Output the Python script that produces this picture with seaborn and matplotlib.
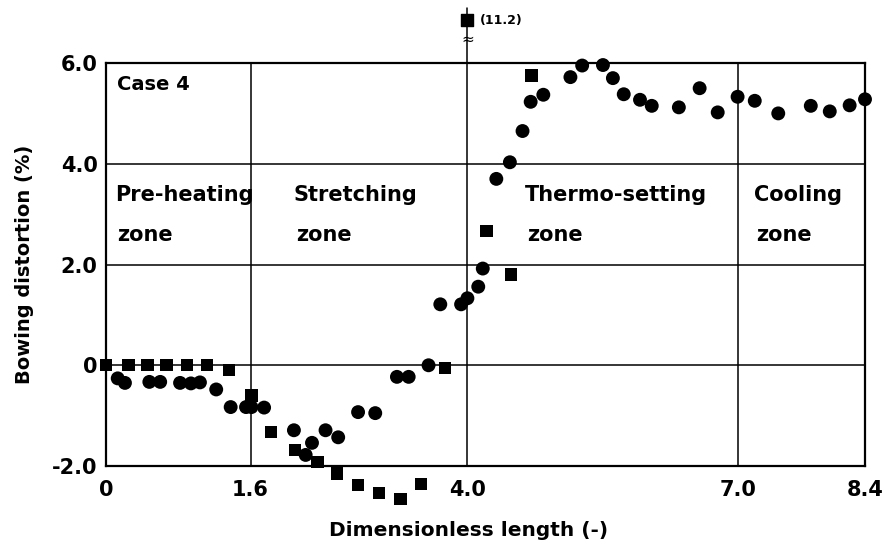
import matplotlib
matplotlib.use("Agg")
import matplotlib.pyplot as plt
import numpy as np
import pandas as pd
import seaborn as sns

# ---- data ----
sq_x = [0.0, 0.25, 0.46, 0.67, 0.90, 1.12, 1.36, 1.61, 1.83, 2.09, 2.34, 2.56,
        2.79, 3.02, 3.26, 3.49, 3.75, 4.21, 4.48, 4.71]
sq_y = [0.0, 0.0, 0.0, 0.0, 0.0, 0.0, -0.10, -0.60, -1.33, -1.68, -1.92, -2.15,
        -2.38, -2.53, -2.66, -2.35, -0.05, 2.66, 1.80, 5.75]

circ_x = [0.13, 0.21, 0.48, 0.60, 0.82, 0.94, 1.04, 1.22, 1.38, 1.55, 1.61, 1.75,
          2.08, 2.21, 2.28, 2.43, 2.57, 2.79, 2.98, 3.22, 3.35, 3.57, 3.70, 3.93,
          4.00, 4.12, 4.17, 4.32, 4.47, 4.61, 4.70, 4.84, 5.14, 5.27, 5.50, 5.61,
          5.73, 5.91, 6.04, 6.34, 6.57, 6.77, 6.99, 7.18, 7.44, 7.80, 8.01, 8.23, 8.40]
circ_y = [-0.26, -0.35, -0.33, -0.33, -0.35, -0.36, -0.34, -0.48, -0.83, -0.83, -0.83, -0.84,
          -1.29, -1.78, -1.54, -1.29, -1.43, -0.93, -0.95, -0.23, -0.23, 0.0, 1.21, 1.21,
          1.33, 1.56, 1.92, 3.70, 4.03, 4.65, 5.23, 5.37, 5.72, 5.95, 5.96, 5.70,
          5.38, 5.27, 5.15, 5.12, 5.50, 5.02, 5.33, 5.25, 5.00, 5.15, 5.04, 5.16, 5.28]

# off-scale square at the 4.0 line
off_x = 4.0
off_value = 11.2
off_shown_at = 6.85

x_ticks = [0, 1.6, 4.0, 7.0, 8.4]
x_ticklabels = ["0", "1.6", "4.0", "7.0", "8.4"]
y_ticks = [-2.0, 0, 2.0, 4.0, 6.0]
y_ticklabels = ["-2.0", "0", "2.0", "4.0", "6.0"]

zones = ["Pre-heating", "Stretching", "Thermo-setting", "Cooling"]
zone_x = [0.10, 2.08, 4.64, 7.17]

sns.set_style("white")
plt.rcParams['font.family'] = ['DejaVu Sans']
plt.rcParams['font.weight'] = 'bold'
plt.rcParams['text.color'] = 'black'
plt.rcParams['axes.labelcolor'] = 'black'
plt.rcParams['xtick.color'] = 'black'
plt.rcParams['ytick.color'] = 'black'

fig = plt.figure(figsize=(8.86, 5.48), dpi=100)
ax = fig.add_axes([0.1196, 0.1496, 0.8567, 0.7354])

df_c = pd.DataFrame({'x': circ_x, 'y': circ_y})
df_s = pd.DataFrame({'x': sq_x, 'y': sq_y})

sns.scatterplot(data=df_c, x='x', y='y', marker='o', s=100, color='black',
                edgecolor='none', linewidth=0, ax=ax, clip_on=False, zorder=5)
sns.scatterplot(data=df_s, x='x', y='y', marker='s', s=78, color='black',
                edgecolor='none', linewidth=0, ax=ax, clip_on=False, zorder=5)

ax.set_xlim(0, 8.4)
ax.set_ylim(-2.0, 6.0)

# grid lines
for gy in [0, 2.0, 4.0]:
    ax.axhline(gy, color='black', lw=1.1, zorder=1)
for gx in [1.6, 7.0]:
    ax.axvline(gx, color='black', lw=1.1, zorder=1)
ax.plot([4.0, 4.0], [-2.0, 7.1], color='black', lw=1.1, clip_on=False, zorder=1)

# broken-axis marker and off-scale point
ax.text(off_x, 6.47, "≈", ha='center', va='center', fontsize=11,
        fontweight='normal', clip_on=False)
ax.scatter([off_x], [off_shown_at], marker='s', s=70, color='black',
           clip_on=False, zorder=6)
ax.text(off_x + 0.14, off_shown_at, "(%.1f)" % off_value, ha='left', va='center',
        fontsize=9)

for sp in ax.spines.values():
    sp.set_color('black')
    sp.set_linewidth(1.6)

ax.set_xticks(x_ticks)
ax.set_xticklabels(x_ticklabels, fontsize=15, fontweight='bold')
ax.set_yticks(y_ticks)
ax.set_yticklabels(y_ticklabels, fontsize=15, fontweight='bold')
ax.tick_params(axis='both', length=0)
ax.tick_params(axis='x', pad=10)
ax.tick_params(axis='y', pad=6)

ax.set_xlabel("Dimensionless length (-)", fontsize=14.5, fontweight='bold')
ax.set_ylabel("Bowing distortion (%)", fontsize=14, fontweight='bold')
ax.xaxis.set_label_coords(0.478, -0.16)
ax.xaxis.label.set_va('center')
ax.yaxis.set_label_coords(-0.107, 0.5)
ax.yaxis.label.set_va('center')

ax.text(0.12, 5.57, "Case 4", ha='left', va='center', fontsize=14)
for name, zx in zip(zones, zone_x):
    ax.text(zx, 3.38, name, ha='left', va='center', fontsize=15)
    ax.text(zx + 0.02, 2.58, "zone", ha='left', va='center', fontsize=15)

fig.savefig("out.png", dpi=100)
